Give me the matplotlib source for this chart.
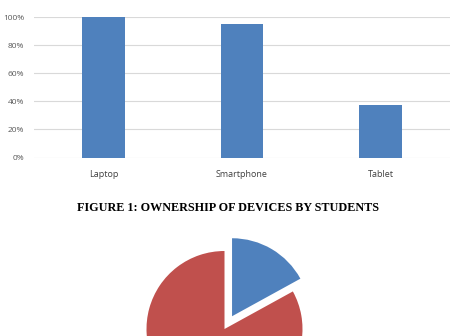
import numpy as np
import matplotlib.pyplot as plt
from matplotlib.ticker import PercentFormatter

# datos
devices = ['Laptop', 'Smartphone', 'Tablet']
ownership = [100, 95, 37.5]
pie_labels = ['Yes', 'No']
pie_values = [17, 83]

W, H = 460, 336
fig = plt.figure(figsize=(W/100, H/100), dpi=100)

# barras
ax = fig.add_axes([34/W, (H-157.5)/H, 416/W, 140.5/H])
x = np.arange(len(devices))
ax.bar(x, ownership, width=0.31, color='#4F81BD', zorder=3)
ax.set_xlim(-0.5, 2.5)
ax.set_ylim(0, 100)
ax.set_yticks(np.arange(0, 101, 20))
ax.yaxis.set_major_formatter(PercentFormatter(decimals=0))
ax.set_xticks(x)
ax.set_xticklabels(devices)
ax.grid(axis='y', color='#D9D9D9', linewidth=0.8, zorder=0)
for s in ax.spines.values():
    s.set_visible(False)
ax.tick_params(axis='y', length=0, pad=7, labelsize=6, labelcolor='#595959')
ax.tick_params(axis='x', length=0, pad=9, labelsize=6.5, labelcolor='#404040')
for lab in ax.get_xticklabels() + ax.get_yticklabels():
    lab.set_family('Open Sans')

fig.text(228/W, 1 - 208/H, 'FIGURE 1: OWNERSHIP OF DEVICES BY STUDENTS',
         ha='center', va='center', fontsize=8.7, fontweight='bold',
         family='Liberation Serif')

# tarta
r = 78
axp = fig.add_axes([(224.5-100)/W, 0, 200/W, 106/H])
axp.pie(pie_values, colors=['#4F81BD', '#C0504D'], startangle=90,
        counterclock=False, explode=[0.19, 0])
axp.set_xlim(-100/r, 100/r)
axp.set_ylim(-7/r, 99/r)
axp.set_aspect('auto')
axp.axis('off')

fig.savefig('out.png', dpi=100)
